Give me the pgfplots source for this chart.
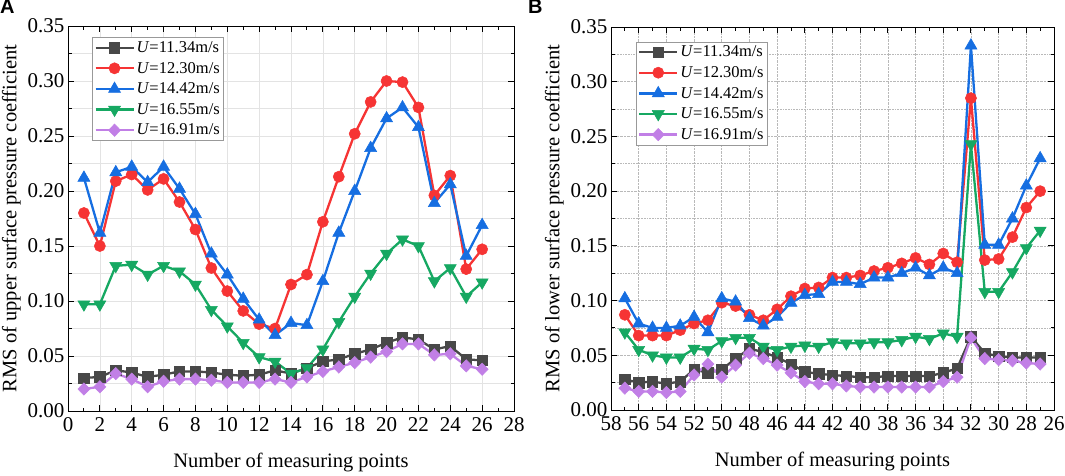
\documentclass[border=0pt]{standalone}
\usepackage{fontspec}
\setmainfont{Liberation Serif}
\newfontfamily\panelfont{Liberation Sans}
\usepackage{pgfplots}
\pgfplotsset{compat=1.18}
\usepackage{pgfplotstable}
\pgfkeys{/pgf/number format/assume math mode=true}

\definecolor{cblack}{RGB}{72,72,72}
\definecolor{cred}{RGB}{246,52,52}
\definecolor{cblue}{RGB}{22,110,225}
\definecolor{cgreen}{RGB}{22,168,98}
\definecolor{cpurple}{RGB}{193,127,230}

\pgfplotstableread{
x k r b g p
1 0.030 0.180 0.212 0.097 0.020
2 0.031 0.150 0.162 0.097 0.022
3 0.037 0.209 0.217 0.132 0.034
4 0.035 0.215 0.222 0.133 0.029
5 0.031 0.201 0.208 0.124 0.022
6 0.033 0.211 0.222 0.132 0.027
7 0.036 0.190 0.202 0.127 0.029
8 0.036 0.165 0.179 0.115 0.029
9 0.035 0.130 0.143 0.092 0.028
10 0.033 0.109 0.124 0.077 0.026
11 0.032 0.091 0.102 0.062 0.026
12 0.033 0.079 0.083 0.049 0.026
13 0.037 0.075 0.069 0.045 0.029
14 0.034 0.115 0.080 0.034 0.026
15 0.039 0.124 0.078 0.039 0.031
16 0.045 0.172 0.118 0.056 0.036
17 0.047 0.213 0.162 0.081 0.040
18 0.052 0.252 0.200 0.104 0.044
19 0.056 0.281 0.239 0.125 0.049
20 0.062 0.300 0.266 0.143 0.054
21 0.067 0.299 0.276 0.156 0.061
22 0.065 0.276 0.258 0.150 0.061
23 0.056 0.196 0.189 0.118 0.051
24 0.059 0.214 0.206 0.130 0.052
25 0.047 0.129 0.141 0.104 0.041
26 0.046 0.147 0.169 0.117 0.038
}\uppertab

\pgfplotstableread{
x k r b g p
57 0.028 0.087 0.102 0.071 0.020
56 0.025 0.068 0.079 0.055 0.017
55 0.026 0.068 0.075 0.050 0.017
54 0.024 0.068 0.075 0.048 0.016
53 0.026 0.073 0.077 0.048 0.017
52 0.037 0.079 0.085 0.056 0.032
51 0.034 0.082 0.071 0.055 0.042
50 0.037 0.098 0.102 0.063 0.030
49 0.047 0.095 0.099 0.066 0.041
48 0.056 0.087 0.084 0.066 0.052
47 0.053 0.082 0.077 0.058 0.047
46 0.048 0.092 0.085 0.055 0.041
45 0.042 0.104 0.098 0.058 0.034
44 0.035 0.111 0.105 0.059 0.026
43 0.033 0.112 0.106 0.058 0.024
42 0.032 0.121 0.117 0.062 0.024
41 0.031 0.121 0.117 0.061 0.022
40 0.030 0.123 0.115 0.061 0.021
39 0.030 0.127 0.121 0.062 0.021
38 0.031 0.130 0.121 0.062 0.021
37 0.031 0.134 0.125 0.064 0.021
36 0.031 0.139 0.130 0.067 0.021
35 0.031 0.133 0.123 0.065 0.021
34 0.034 0.143 0.130 0.070 0.026
33 0.038 0.135 0.125 0.067 0.030
32 0.067 0.285 0.333 0.243 0.066
31 0.052 0.137 0.151 0.108 0.047
30 0.049 0.138 0.151 0.108 0.046
29 0.048 0.158 0.175 0.126 0.045
28 0.048 0.185 0.205 0.148 0.043
27 0.048 0.200 0.230 0.164 0.042
}\lowertab

\pgfplotsset{
  common/.style={
    scale only axis,
    anchor=south west,
    tick align=inside,
    major tick length=6pt,
    minor tick length=3.5pt,
    every tick/.style={black, line width=0.9pt},
    axis line style={black, line width=1pt},
    ymin=0, ymax=0.35,
    ytick={0,0.05,0.10,0.15,0.20,0.25,0.30,0.35},
    minor y tick num=1,
    minor x tick num=1,
    yticklabel style={/pgf/number format/.cd, fixed, fixed zerofill, precision=2, assume math mode=true},
    xticklabel style={/pgf/number format/assume math mode=true, yshift=-3pt},
    tick label style={font=\fontsize{21}{24}\selectfont},
    label style={font=\fontsize{20.5}{24}\selectfont},
    xlabel={Number of measuring points},
    xlabel style={yshift=-14pt},
    xmajorgrids, ymajorgrids, yminorgrids,
    legend cell align=left,
    legend style={anchor=north west, draw=gray!80, line width=0.6pt,
      font=\fontsize{16.5}{18}\selectfont, inner xsep=2pt, inner ysep=2pt,
      row sep=4.2pt, fill=white},
    legend image code/.code={
      \draw[mark repeat=2, mark phase=2] plot coordinates {(0pt,0pt) (19pt,0pt) (38pt,0pt)};
    },
  },
  sk/.style={cblack, line width=2.3pt, mark=square*, mark size=5.2pt, mark options={solid, line width=0.5pt}},
  sr/.style={cred, line width=2.3pt, mark=*, mark size=5.6pt, mark options={solid, line width=0.5pt}},
  sb/.style={cblue, line width=2.3pt, mark=triangle*, mark size=7pt, mark options={solid, line width=0.5pt}},
  sg/.style={cgreen, line width=2.3pt, mark=triangle*, mark size=7pt, mark options={solid, rotate=180, line width=0.5pt}},
  sp/.style={cpurple, line width=2.3pt, mark=diamond*, mark size=6.2pt, mark options={solid, xscale=1.3, line width=0.5pt}},
}

\begin{document}
\begin{tikzpicture}
\useasboundingbox (0,0) rectangle (1065pt,475pt);

\node[anchor=north west, inner sep=0pt, font=\panelfont\bfseries\fontsize{20}{20}\selectfont] at (0pt,475pt) {A};
\node[anchor=north west, inner sep=0pt, font=\panelfont\bfseries\fontsize{20}{20}\selectfont] at (528pt,475pt) {B};

\begin{axis}[common,
  at={(68pt,64pt)}, width=446pt, height=385pt,
  xmin=0, xmax=28, xtick={0,2,...,28},
  ylabel={RMS of upper surface pressure coefficient},
  grid style={gray!22, line width=0.6pt},
  minor grid style={gray!22, line width=0.6pt},
  legend style={at={(rel axis cs:0.054,0.971)}},
]
\addplot[sk] table[x=x, y=k] {\uppertab};
\addplot[sr] table[x=x, y=r] {\uppertab};
\addplot[sb] table[x=x, y=b] {\uppertab};
\addplot[sg] table[x=x, y=g] {\uppertab};
\addplot[sp] table[x=x, y=p] {\uppertab};
\legend{\textit{U}=11.34m/s, \textit{U}=12.30m/s, \textit{U}=14.42m/s, \textit{U}=16.55m/s, \textit{U}=16.91m/s}
\end{axis}

\begin{axis}[common,
  at={(611pt,65pt)}, width=443pt, height=383pt,
  x dir=reverse,
  xmin=26, xmax=58, xtick={26,28,...,58},
  ylabel={RMS of lower surface pressure coefficient},
  grid style={gray!55, densely dotted, line width=0.6pt},
  minor grid style={gray!55, densely dotted, line width=0.6pt},
  legend style={at={(rel axis cs:0.056,0.962)}},
]
\addplot[sk] table[x=x, y=k] {\lowertab};
\addplot[sr] table[x=x, y=r] {\lowertab};
\addplot[sb] table[x=x, y=b] {\lowertab};
\addplot[sg] table[x=x, y=g] {\lowertab};
\addplot[sp] table[x=x, y=p] {\lowertab};
\legend{\textit{U}=11.34m/s, \textit{U}=12.30m/s, \textit{U}=14.42m/s, \textit{U}=16.55m/s, \textit{U}=16.91m/s}
\end{axis}
\end{tikzpicture}
\end{document}
